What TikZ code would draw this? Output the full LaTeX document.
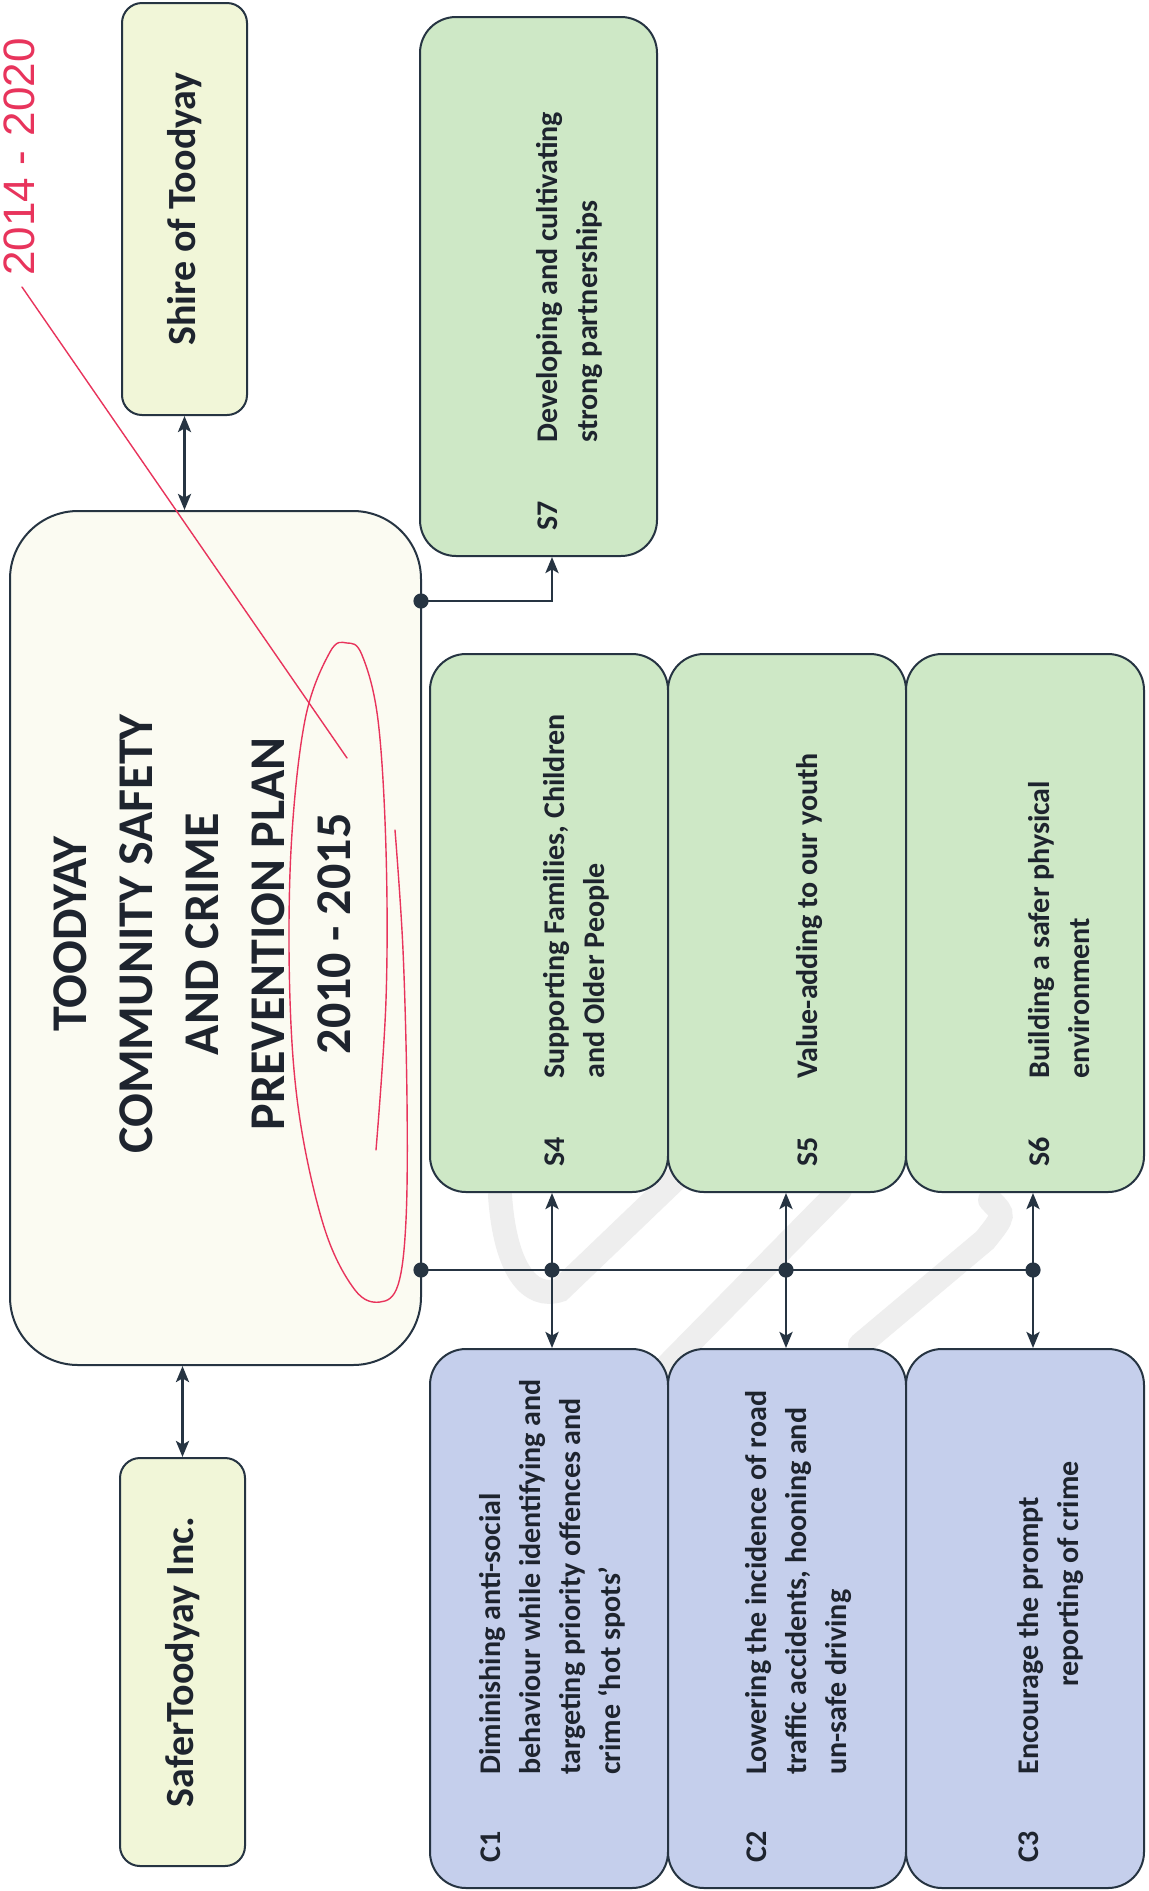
\documentclass[tikz,border=0pt]{standalone}
\usepackage{fontspec}
\setmainfont{Carlito}
\newfontfamily\handfont{Liberation Sans}
\usetikzlibrary{arrows.meta}
\definecolor{bordercol}{RGB}{38,52,66}
\definecolor{txtcol}{RGB}{30,36,46}
\definecolor{yelfill}{RGB}{241,246,216}
\definecolor{mainfill}{RGB}{251,251,242}
\definecolor{grnfill}{RGB}{206,232,198}
\definecolor{blufill}{RGB}{197,207,236}
\definecolor{redink}{RGB}{232,52,92}
\definecolor{wmcol}{RGB}{238,238,238}
\newcommand\lbl[1]{\makebox[44pt][l]{#1}}
\begin{document}
\begin{tikzpicture}[x=0.5pt,y=-0.5pt,
  box/.style={draw=bordercol, line width=1pt, inner sep=0pt, rounded corners=#1},
  conn/.style={draw=bordercol, line width=1.4pt},
  >={Stealth[length=8pt,width=6.5pt,inset=1.8pt]},
  boxtxt/.style={rotate=90, anchor=west, align=left, inner sep=0pt, text=txtcol,
    font=\bfseries\fontsize{15}{20}\selectfont},
  redpen/.style={draw=redink, line width=0.7pt, line cap=round, line join=round},
  wm/.style={draw=wmcol, line width=12pt, line cap=round}]
\useasboundingbox (0,0) rectangle (1148,1891);
\fill[white] (0,0) rectangle (1148,1891);

% faint watermark
\draw[wm] (500,1195) .. controls (505,1270) and (530,1300) .. (560,1290) -- (680,1175);
\draw[wm] (840,1190) -- (668,1365);
\draw[wm] (990,1200) .. controls (1005,1215) .. (985,1240) -- (860,1345);

% boxes
\node[box=10pt, fill=yelfill, minimum width=62.5pt, minimum height=206pt] (shire) at (184.5,209) {};
\node[box=34pt, fill=mainfill, minimum width=205.5pt, minimum height=427pt] (main) at (215.5,938) {};
\node[box=10pt, fill=yelfill, minimum width=62.5pt, minimum height=204pt] (safer) at (182.5,1662) {};
\node[box=18pt, fill=grnfill, minimum width=118.5pt, minimum height=269.5pt] (s7) at (538.5,286.5) {};
\node[box=18pt, fill=grnfill, minimum width=119pt, minimum height=269pt] (s4) at (549,923) {};
\node[box=18pt, fill=grnfill, minimum width=119pt, minimum height=269pt] (s5) at (787,923) {};
\node[box=18pt, fill=grnfill, minimum width=119pt, minimum height=269pt] (s6) at (1025,923) {};
\node[box=18pt, fill=blufill, minimum width=119pt, minimum height=269.5pt] (c1) at (549,1618.5) {};
\node[box=18pt, fill=blufill, minimum width=119pt, minimum height=269.5pt] (c2) at (787,1618.5) {};
\node[box=18pt, fill=blufill, minimum width=119pt, minimum height=269.5pt] (c3) at (1025,1618.5) {};

% texts
\node[rotate=90, inner sep=0pt, text=txtcol, font=\bfseries\fontsize{20}{24}\selectfont] (tshire) at (shire.center) {Shire of Toodyay};
\node[rotate=90, inner sep=0pt, text=txtcol, font=\bfseries\fontsize{20}{24}\selectfont] (tsafer) at (safer.center) {SaferToodyay Inc.};
\node[rotate=90, inner sep=0pt, align=center, text=txtcol, font=\bfseries\fontsize{25}{33}\selectfont] (ttitle) at (202,934)
  {TOODYAY\\COMMUNITY SAFETY\\AND CRIME\\PREVENTION PLAN\\2010 - 2015};
\node[boxtxt] (t7) at (569,531) {\lbl{S7}Developing and cultivating\\\lbl{}strong partnerships};
\node[boxtxt] (t4) at (576,1167) {\lbl{S4}Supporting Families, Children\\\lbl{}and Older People};
\node[boxtxt] (t5) at (810,1167) {\lbl{S5}Value-adding to our youth};
\node[boxtxt] (t6) at (1059,1167) {\lbl{S6}Building a safer physical\\\lbl{}environment};
\node[boxtxt] (tc1) at (552,1863) {\lbl{C1}Diminishing anti-social\\\lbl{}behaviour while identifying and\\\lbl{}targeting priority offences and\\\lbl{}crime ‘hot spots’};
\node[boxtxt] (tc2) at (799,1863) {\lbl{C2}Lowering the incidence of road\\\lbl{}traffic accidents, hooning and\\\lbl{}un-safe driving};
\node[boxtxt] (tc3) at (1051,1863) {\lbl{C3}Encourage the prompt\\\lbl{}\hspace*{44pt}reporting of crime};

% junctions
\coordinate (j7) at (421,601);
\coordinate (e7) at (552,601);
\coordinate (j0) at (421,1270);
\coordinate (j1) at (552,1270);
\coordinate (j2) at (786,1270);
\coordinate (j3) at (1033,1270);

% connectors
\draw[conn,<->] (shire.south) -- (shire.south |- main.north);
\draw[conn,<->] (main.south -| safer.north) -- (safer.north);
\draw[conn,->] (j7) -- (e7) -- (e7 |- s7.south);
\draw[conn] (j7) -- (j0) -- (j3);
\draw[conn,<->] (s4.south -| j1) -- (c1.north -| j1);
\draw[conn,<->] (s5.south -| j2) -- (c2.north -| j2);
\draw[conn,<->] (s6.south -| j3) -- (c3.north -| j3);
\foreach \p in {j7,j0,j1,j2,j3} \fill[bordercol] (\p) circle[radius=3.8pt];

% handwritten annotation
\node[rotate=90, anchor=west, inner sep=0pt, text=redink, font=\handfont\fontsize{22}{22}\selectfont] (hand) at (19,276) {2014 -\,\,2020};
\draw[redpen] (22,287) -- (347,758);
\draw[redpen] plot[smooth, tension=0.6] coordinates {(376,1150) (386,1000) (386,850) (378,720) (362,655) (347,643) (330,652) (305,720) (291,850) (290,1000) (300,1120) (325,1230) (355,1290) (380,1302) (398,1285) (406,1220) (407,1100) (403,950) (395,830)};
\end{tikzpicture}
\end{document}
